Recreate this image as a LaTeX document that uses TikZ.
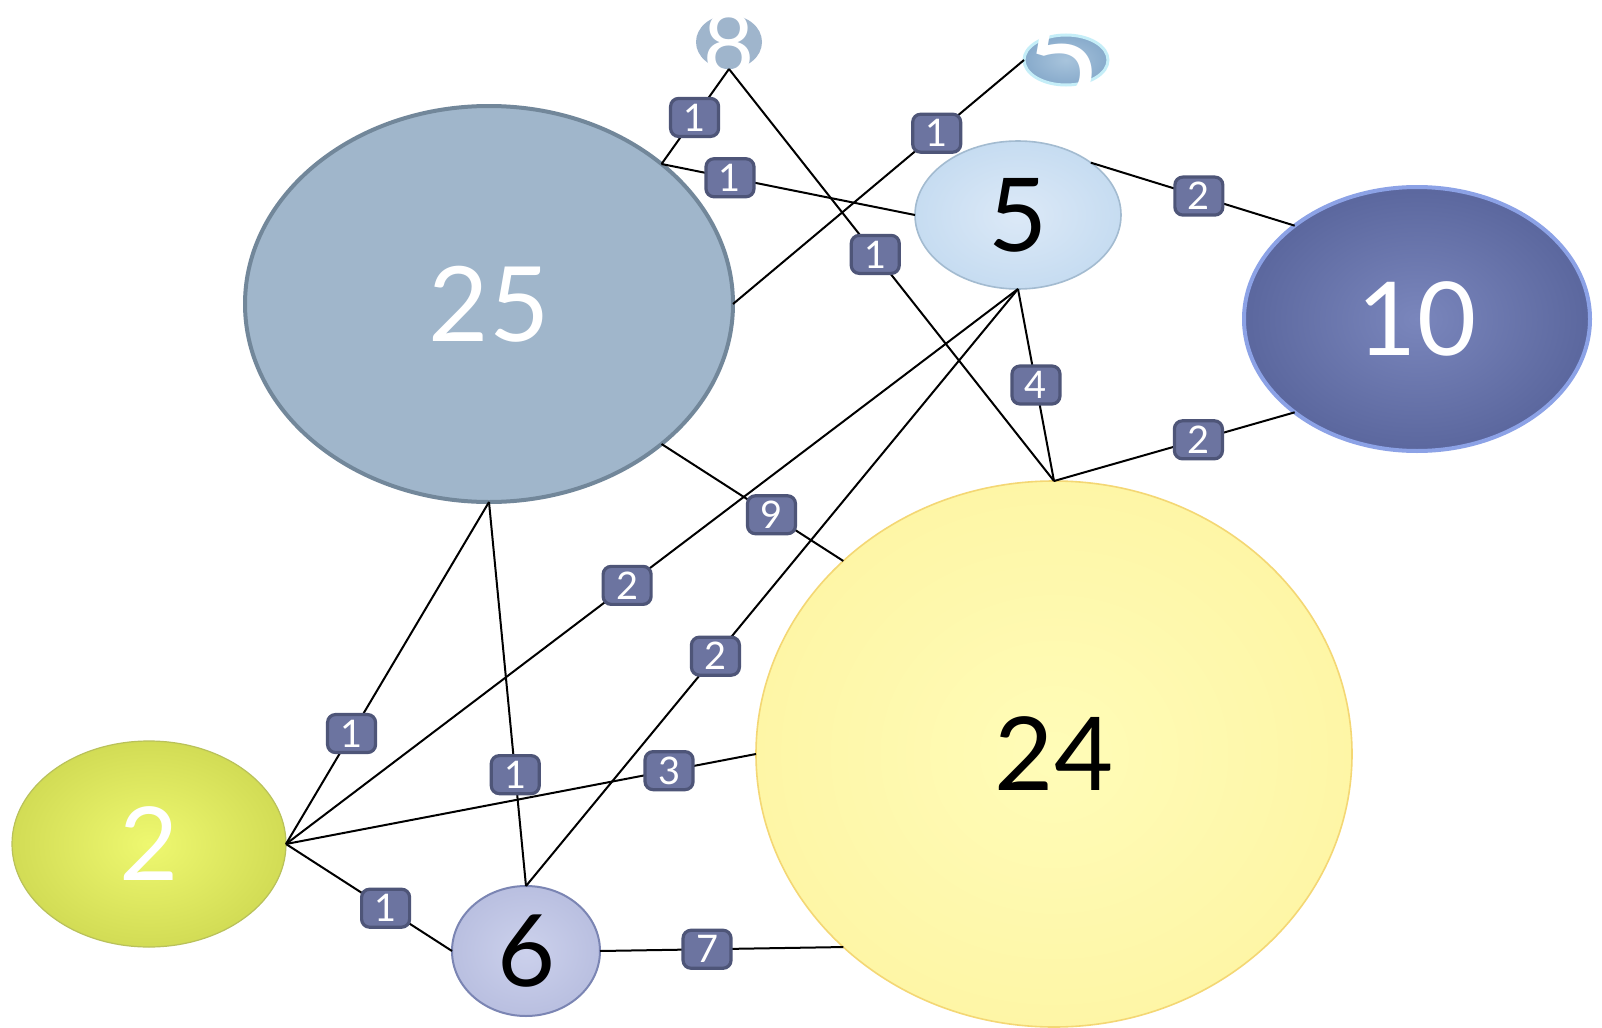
\documentclass[tikz,border=0pt]{standalone}
\usepackage{fontspec}
\setmainfont{Lato}
\usepackage{pdfrender}
\usetikzlibrary{shapes.geometric}
\definecolor{lblfill}{HTML}{6C74A0}
\definecolor{lbldraw}{HTML}{4E5578}
\definecolor{c25}{HTML}{A0B6CB}
\definecolor{c25b}{HTML}{72879A}
\definecolor{c10i}{HTML}{7A86BC}
\definecolor{c10o}{HTML}{5B679E}
\definecolor{c10b}{HTML}{8CA2E6}
\definecolor{c24i}{HTML}{FFFCB8}
\definecolor{c24o}{HTML}{FEF6A6}
\definecolor{c24b}{HTML}{F4D774}
\definecolor{c2i}{HTML}{EEF870}
\definecolor{c2o}{HTML}{D2DC55}
\definecolor{c2b}{HTML}{B9C15A}
\definecolor{c5i}{HTML}{DCE9F7}
\definecolor{c5o}{HTML}{C6DCF1}
\definecolor{c5b}{HTML}{A3BBD0}
\definecolor{c6i}{HTML}{CCD1EC}
\definecolor{c6o}{HTML}{B9BFE0}
\definecolor{c6b}{HTML}{7B85B3}
\definecolor{c8}{HTML}{9FB5CC}
\definecolor{c5ti}{HTML}{A8C4DC}
\definecolor{c5to}{HTML}{87AACB}
\definecolor{c5tb}{HTML}{C5EEF8}
\definecolor{halo}{HTML}{D8D8D8}
\begin{document}
\begin{tikzpicture}[x=0.5pt,y=-0.5pt,
  bub/.style={ellipse, inner sep=0pt, outer sep=0pt},
  lbl/.style={rectangle, rounded corners=4pt, fill=lblfill, draw=lbldraw,
    line width=1.6pt, minimum width=24pt, minimum height=19pt, inner sep=0pt,
    text=white, font=\fontsize{19}{19}\selectfont},
  conn/.style={line width=1pt, black}]
\useasboundingbox[fill=white] (0,0) rectangle (1602,1028);
% bubbles
\node[bub, minimum width=244pt, minimum height=198pt, fill=c25, draw=c25b,
  line width=2pt, text=white, font=\fontsize{52}{52}\selectfont] (n25) at (489,304) {25};
\node[bub, minimum width=103pt, minimum height=74pt, inner color=c5i, outer color=c5o,
  draw=c5b, line width=0.8pt, text=black, font=\fontsize{51}{51}\selectfont] (n5) at (1018,215) {5};
\node[bub, minimum width=173pt, minimum height=132pt, inner color=c10i, outer color=c10o,
  draw=c10b, line width=2pt, text=white, font=\fontsize{51}{51}\selectfont] (n10) at (1417,319) {10};
\node[bub, minimum width=298pt, minimum height=273pt, inner color=c24i, outer color=c24o,
  draw=c24b, line width=0.8pt, text=black, font=\fontsize{51}{51}\selectfont] (n24) at (1054,754) {24};
\node[bub, minimum width=137pt, minimum height=103pt, inner color=c2i, outer color=c2o,
  draw=c2b, line width=0.6pt, text=white, font=\fontsize{51}{51}\selectfont] (n2) at (149,844) {2};
\node[bub, minimum width=74pt, minimum height=65pt, inner color=c6i, outer color=c6o,
  draw=c6b, line width=1pt, text=black, font=\fontsize{50}{50}\selectfont] (n6) at (526,951) {6};
\node[bub, minimum width=33pt, minimum height=27pt, fill=c8] (n8) at (729,42) {};
\node[text=white, font=\fontsize{44}{44}\selectfont, inner sep=0pt] (n8t) at (729,44)
  {\textpdfrender{TextRenderingMode=FillStroke, LineWidth=4pt, StrokeColor=white, FillColor=white}{8}};
\node[bub, minimum width=42pt, minimum height=25pt, inner color=c5ti, outer color=c5to,
  draw=c5tb, line width=1.5pt] (n5t) at (1066,60) {};
\node[text=white, font=\fontsize{66}{66}\selectfont, inner sep=0pt] (n5tt) at (1063,58)
  {\textpdfrender{TextRenderingMode=FillStroke, LineWidth=0.7pt, StrokeColor=halo, FillColor=white}{5}};
% connectors
\draw[conn] (n8.south) -- node[lbl,pos=0.51]{1} (n25.north east);
\draw[conn] (n8.south) -- node[lbl,pos=0.45]{1} (n24.north);
\draw[conn] (n25.north east) -- node[lbl,pos=0.27]{1} (n5.west);
\draw[conn] (n25.east) -- node[lbl,pos=0.70]{1} (n5t.west);
\draw[conn] (n5.north east) -- node[lbl,pos=0.53]{2} (n10.north west);
\draw[conn] (n5.south) -- node[lbl,pos=0.50]{4} (n24.north);
\draw[conn] (n10.south west) -- node[lbl,pos=0.40]{2} (n24.north);
\draw[conn] (n25.south east) -- node[lbl,pos=0.605]{9} (n24.north west);
\draw[conn] (n2.east) -- node[lbl,pos=0.466]{2} (n5.south);
\draw[conn] (n6.north) -- node[lbl,pos=0.385]{2} (n5.south);
\draw[conn] (n2.east) -- node[lbl,pos=0.323]{1} (n25.south);
\draw[conn] (n6.north) -- node[lbl,pos=0.29]{1} (n25.south);
\draw[conn] (n2.east) -- node[lbl,pos=0.815]{3} (n24.west);
\draw[conn] (n2.east) -- node[lbl,pos=0.60]{1} (n6.west);
\draw[conn] (n6.east) -- node[lbl,pos=0.44]{7} (n24.south west);
\end{tikzpicture}
\end{document}
